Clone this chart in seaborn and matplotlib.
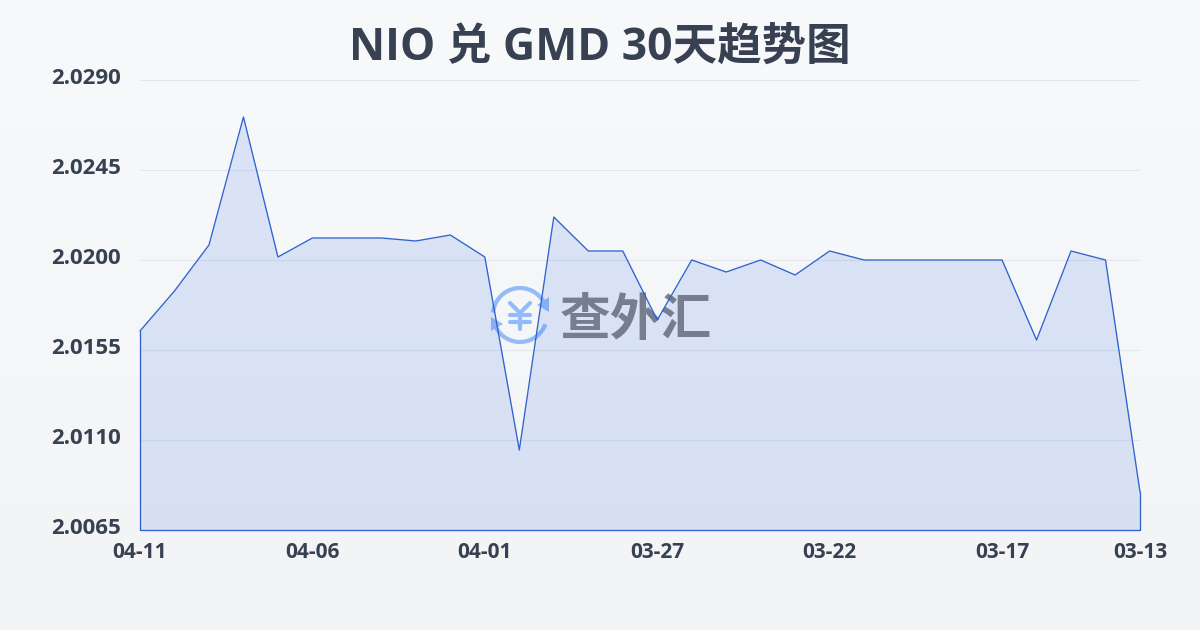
import numpy as np
import pandas as pd
import matplotlib
matplotlib.use("Agg")
import matplotlib.pyplot as plt
from matplotlib.patches import Arc, Polygon
import seaborn as sns

dates = ["04-11","04-10","04-09","04-08","04-07","04-06","04-05","04-04","04-03","04-02",
         "04-01","03-31","03-30","03-29","03-28","03-27","03-26","03-25","03-24","03-23",
         "03-22","03-21","03-20","03-19","03-18","03-17","03-16","03-15","03-14","03-13"]
rates = [2.01645,2.01845,2.02075,2.02715,2.02015,2.0211,2.0211,2.0211,2.02095,2.02125,
         2.02015,2.0105,2.02215,2.02045,2.02045,2.0170,2.0200,2.0194,2.0200,2.01925,
         2.02045,2.0200,2.0200,2.0200,2.0200,2.0200,2.0160,2.02045,2.0200,2.0084]
y_ticks = [2.0065,2.0110,2.0155,2.0200,2.0245,2.0290]
x_tick_labels = ["04-11","04-06","04-01","03-27","03-22","03-17","03-13"]

sns.set_theme(style="white")
plt.rcParams['font.family'] = ['Noto Sans CJK SC', 'DejaVu Sans']
W, H = 1200, 630
TXT = "#374151"
LINE = "#2f62cf"
ICON = "#93bbf9"
fig = plt.figure(figsize=(12, 6.3), dpi=100)

bg = fig.add_axes([0, 0, 1, 1], zorder=0)
bg.imshow(np.linspace(0, 1, 256)[:, None], aspect="auto", extent=(0, W, H, 0),
          cmap=matplotlib.colors.LinearSegmentedColormap.from_list("b", ["#f8f9fb", "#f2f4f6"]))
bg.set_xlim(0, W); bg.set_ylim(H, 0); bg.axis("off")

# watermark
bg.add_patch(Arc((520, 315), 54, 54, theta1=185, theta2=335, lw=3, color=ICON))
bg.add_patch(Arc((520, 315), 54, 54, theta1=20, theta2=165, lw=3, color=ICON))
bg.add_patch(Polygon([(537, 305), (549, 297), (549, 312)], closed=True, fc=ICON, ec="none"))
bg.add_patch(Polygon([(503, 324), (491, 317), (491, 331)], closed=True, fc=ICON, ec="none"))
for xs, ys in [([510, 520, 530], [303, 313, 303]), ([520, 520], [313, 329]),
               ([510, 530], [315, 315]), ([510, 530], [322, 322])]:
    bg.plot(xs, ys, color=ICON, lw=3, solid_capstyle="round")
bg.text(636, 320, "查外汇", fontsize=36.5, fontweight="bold", color="#808082", ha="center", va="center")

ax = fig.add_axes([140/W, 1-530/H, 1000/W, 450/H], zorder=1)
ax.patch.set_alpha(0)
df = pd.DataFrame({"i": np.arange(len(dates)), "date": dates, "rate": rates})
ax.fill_between(df["i"], df["rate"], 2.0065, color="#3b72e0", alpha=0.15, lw=0, zorder=2)
sns.lineplot(data=df, x="i", y="rate", ax=ax, color=LINE, lw=0.95, zorder=3, clip_on=False)
ax.plot([0, 0, 29, 29], [rates[0], 2.0065, 2.0065, rates[-1]], color=LINE, lw=0.95, zorder=3, clip_on=False)

ax.set_xlim(0, 29); ax.set_ylim(2.0065, 2.0290)
ax.set_xlabel(""); ax.set_ylabel("")
ax.set_yticks(y_ticks)
ax.set_yticklabels([f"{v:.4f}" for v in y_ticks], fontsize=16, fontweight="bold", color=TXT, va="center",
                   family=["Open Sans"])
ax.tick_params(axis="y", length=0, pad=13.5)
for lab in ax.get_yticklabels():
    lab.set_transform(lab.get_transform() + matplotlib.transforms.ScaledTranslation(0, 1/100, fig.dpi_scale_trans))
pos = [dates.index(d) for d in x_tick_labels]
ax.set_xticks(pos)
ax.set_xticklabels(x_tick_labels, fontsize=15, fontweight="bold", color=TXT, family=["Open Sans"])
ax.tick_params(axis="x", length=7, width=0.8, color="#e5e7eb", pad=2)
ax.grid(axis="y", color="#e3e6ee", lw=0.8)
ax.set_axisbelow(True)
sns.despine(ax=ax, left=True, bottom=True)

fig.text(0.5, 1-48/H, "NIO 兑 GMD 30天趋势图", fontsize=32, fontweight="bold", color=TXT,
         ha="center", va="center", family=["Open Sans", "Noto Sans CJK SC"])

fig.savefig("out.png", dpi=100)
